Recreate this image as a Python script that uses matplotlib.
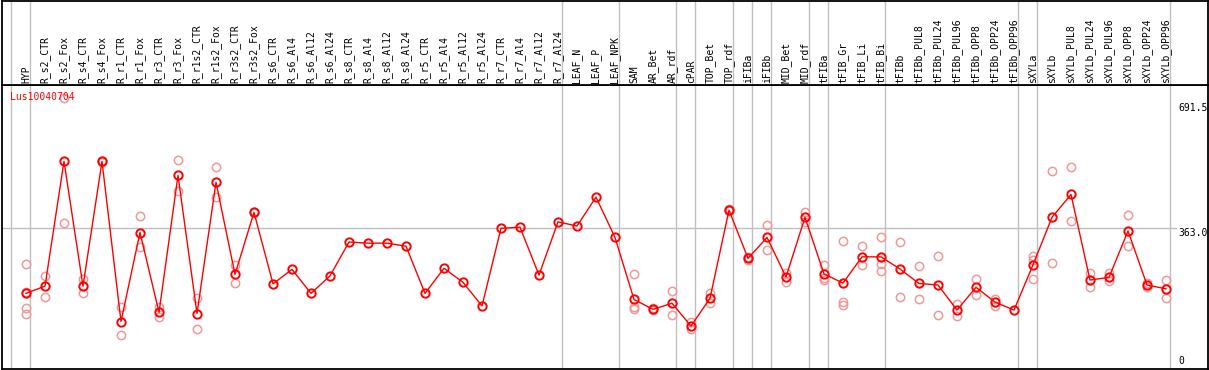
import matplotlib
matplotlib.use("Agg")
import matplotlib.pyplot as plt
import matplotlib.transforms as mtransforms

categories = [
    "HYP", "R_s2_CTR", "R_s2_Fox", "R_s4_CTR", "R_s4_Fox", "R_r1_CTR", "R_r1_Fox",
    "R_r3_CTR", "R_r3_Fox", "R_r1s2_CTR", "R_r1s2_Fox", "R_r3s2_CTR", "R_r3s2_Fox",
    "R_s6_CTR", "R_s6_Al4", "R_s6_Al12", "R_s6_Al24", "R_s8_CTR", "R_s8_Al4",
    "R_s8_Al12", "R_s8_Al24", "R_r5_CTR", "R_r5_Al4", "R_r5_Al12", "R_r5_Al24",
    "R_r7_CTR", "R_r7_Al4", "R_r7_Al12", "R_r7_Al24", "LEAF_N", "LEAF_P", "LEAF_NPK",
    "SAM", "AR_Bet", "AR_rdf", "cPAR", "TOP_Bet", "TOP_rdf", "iFIBa", "iFIBb",
    "MID_Bet", "MID_rdf", "tFIBa", "tFIB_Gr", "tFIB_Li", "tFIB_Bi", "tFIBb",
    "tFIBb_PUL8", "tFIBb_PUL24", "tFIBb_PUL96", "tFIBb_OPP8", "tFIBb_OPP24",
    "tFIBb_OPP96", "sXYLa", "sXYLb", "sXYLb_PUL8", "sXYLb_PUL24", "sXYLb_PUL96",
    "sXYLb_OPP8", "sXYLb_OPP24", "sXYLb_OPP96",
]

mean_values = [
    191, 210, 538, 210, 538, 117, 351, 141, 501, 138, 483, 241, 404,
    216, 254, 191, 237, 326, 323, 323, 315, 191, 257, 220, 158,
    362, 365, 239, 379, 368, 444, 338,
    175, 149, 165, 105, 178, 410, 283, 338, 234, 391,
    242, 218, 287, 287, 255, 217, 213, 147, 207, 168, 147,
    266, 391, 451, 226, 233, 355, 213, 203,
]

replicate_values = [
    [268, 195, 153, 137], [237, 181], [375, 705], [228, 191], [540, 536],
    [154, 81], [394, 312], [156, 128], [541, 460], [178, 96], [522, 445],
    [266, 217], [406, 402],
    [], [], [], [], [], [], [], [], [], [], [], [], [], [], [], [],
    [], [], [],
    [241, 156, 150], [153, 146], [196, 133], [115, 97], [193, 166], [412, 408],
    [286, 280], [370, 304], [245, 220], [405, 379],
    [266, 226, 232], [329, 167, 160], [315, 265], [339, 268, 251], [325, 181],
    [263, 175], [289, 133], [162, 131], [229, 186], [176, 159], [],
    [289, 279, 228], [513, 270], [522, 380], [244, 207], [244, 223],
    [396, 316], [217, 207], [226, 178],
]

group_ends = [-1, 0, 28, 31, 34, 35, 37, 38, 39, 41, 42, 45, 52, 53, 60]
gene_name = "Lus10040704"
y_labels = [691.5, 363.0, 0]

W, H = 1209, 370
fig = plt.figure(figsize=(W / 100, H / 100), dpi=100)
fig.patch.set_facecolor("white")

left_px, right_px = 1.5, 1207.5
top_px, sep_px, bottom_px = 0.5, 85.0, 368.5
x0 = 26.0
dx = 19.0

def fx(p):
    return p / W

def fy(p):
    return 1 - p / H

ax = fig.add_axes([fx(left_px), fy(bottom_px), fx(right_px - left_px), (bottom_px - sep_px) / H])
hax = fig.add_axes([fx(left_px), fy(sep_px), fx(right_px - left_px), (sep_px - top_px) / H])

xlim = ((left_px - x0) / dx, (right_px - x0) / dx)
scale = 263.0 / 691.5
ylim = ((366 - bottom_px) / scale, (366 - sep_px) / scale)

for a in (ax, hax):
    a.set_xlim(*xlim)
    a.set_xticks([])
    a.set_yticks([])
    for s in a.spines.values():
        s.set_color("black")
        s.set_linewidth(1.3)
    for g in group_ends:
        a.axvline(g + 0.21, color="#c0c0c0", lw=1.0, zorder=0)

ax.set_ylim(*ylim)
hax.set_ylim(0, 1)

grid_color = "#c0c0c0"
ax.plot([xlim[0], (1176 - x0) / dx], [363.0, 363.0], color=grid_color, lw=1.0, zorder=0)

xs = list(range(len(categories)))
for i, reps in enumerate(replicate_values):
    if reps:
        ax.plot([i] * len(reps), reps, linestyle="none", marker="o", ms=6,
                mfc="none", mec="#ee9999", mew=1.1, zorder=2)

ax.plot(xs, mean_values, color="#ff0000", lw=1.0, zorder=3)
ax.plot(xs, mean_values, linestyle="none", marker="o", ms=6, mfc="none",
        mec="#ff0000", mew=1.4, zorder=4)

mono = "DejaVu Sans Mono"
trans_h = mtransforms.blended_transform_factory(hax.transData, hax.transAxes)
for i, name in enumerate(categories):
    hax.text(i, 0.02, name, rotation=90, ha="center", va="bottom",
             fontsize=7, family=mono, transform=trans_h, color="black")

ax.text(0.007, 0.958, gene_name, transform=ax.transAxes, color="#ff0000",
        fontsize=7, family=mono, ha="left", va="center")

trans_r = mtransforms.blended_transform_factory(ax.transAxes, ax.transData)
for v in y_labels:
    label = "0" if v == 0 else f"{v:.1f}"
    ax.text(0.9755, v, label, transform=trans_r, fontsize=7, family=mono,
            ha="left", va="bottom" if v == 0 else "top", color="black")

fig.savefig("out.png", dpi=100)
